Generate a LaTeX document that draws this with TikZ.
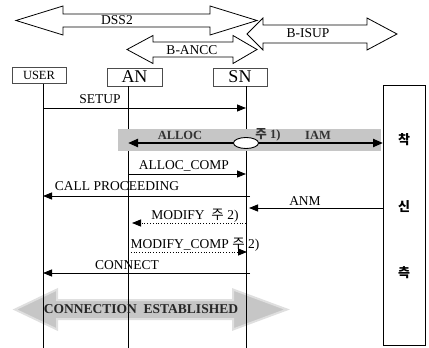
\documentclass[tikz,border=0pt]{standalone}
\usepackage{fontspec}
\setmainfont{Liberation Serif}
\newfontfamily\kr{Noto Sans CJK KR}
\usetikzlibrary{arrows.meta,shapes.geometric}
\tikzset{
  x=1pt,y=-1pt,
  lbl/.style={font=\fontsize{13.5}{14}\selectfont,inner sep=0pt},
  blbl/.style={inner sep=0pt,font=\bfseries\fontsize{12.5}{14}\selectfont,text=black!80},
  ent/.style={draw=black!70,line width=0.7pt,minimum height=16pt,inner sep=0pt},
  life/.style={line width=0.8pt},
  msg/.style={line width=0.8pt,-{Triangle[length=9pt,width=7pt]}},
  dmsg/.style={msg,dotted},
  band/.style={draw=black,line width=0.8pt,fill=white},
}
\newcommand\dblarrowpath[7]{% x1 xb1 xb2 x2 yc halfshaft halfhead
  (#1,#5) -- (#2,#5-#7) -- (#2,#5-#6) -- (#3,#5-#6) -- (#3,#5-#7) -- (#4,#5)
  -- (#3,#5+#7) -- (#3,#5+#6) -- (#2,#5+#6) -- (#2,#5+#7) -- cycle}
\begin{document}
\begin{tikzpicture}
\useasboundingbox (0,0) rectangle (429,348);
% protocol arrows
\draw[band] \dblarrowpath{16}{63}{210}{257}{20.5}{6.5}{14.5};
\node[lbl,font=\fontsize{13.5}{14}\selectfont] (dss) at (117,20) {DSS2};
\draw[band] \dblarrowpath{247}{263}{367}{397}{34}{9}{16};
\node[lbl,font=\fontsize{13.5}{14}\selectfont] (isup) at (308,33) {B-ISUP};
\draw[band] \dblarrowpath{127}{153}{233}{257}{49.5}{7.5}{14};
\node[lbl,font=\fontsize{13.5}{14}\selectfont] (ancc) at (192,50) {B-ANCC};
% entities
\node[ent,minimum width=54pt,font=\fontsize{12.5}{14}\selectfont] (user) at (39,75.5) {USER};
\node[ent,minimum width=55pt,minimum height=18pt,font=\fontsize{18}{18}\selectfont] (an) at (134.5,77) {AN};
\node[ent,minimum width=54pt,minimum height=18pt,font=\fontsize{18}{18}\selectfont] (sn) at (240,77) {SN};
\node[draw=black,line width=0.8pt,minimum width=42pt,minimum height=260pt,inner sep=0pt] (rb) at (404,215) {};
\node[font=\kr\bfseries\fontsize{13}{14}\selectfont,inner sep=0pt] (k1) at (404,140) {착};
\node[font=\kr\bfseries\fontsize{13}{14}\selectfont,inner sep=0pt] (k2) at (404,207) {신};
\node[font=\kr\bfseries\fontsize{13}{14}\selectfont,inner sep=0pt] (k3) at (404,273) {측};
% lifelines
\coordinate (ub) at (43,348);
\coordinate (ab) at (128,348);
\coordinate (sb) at (246,348);
\coordinate (ut) at (43,83.5);
\coordinate (at) at (128,86);
\coordinate (st) at (246,86);
% connection established (background)
\fill[gray!45,draw=gray!25,line width=2pt] \dblarrowpath{15}{57}{233}{287}{309.5}{9.5}{20};
\draw[life] (ut) -- (ub);
\draw[life] (at) -- (ab);
\draw[life] (st) -- (sb);
\node[blbl,font=\bfseries\fontsize{13.5}{14}\selectfont,text=black!85] (ce) at (141,309) {CONNECTION\ \ ESTABLISHED};
% SETUP
\coordinate (m1a) at (43,108); \coordinate (m1b) at (246,108);
\draw[msg] (m1a) -- (m1b);
\node[lbl] (l1) at (100,99) {SETUP};
% ALLOC / IAM
\fill[gray!45] (118,129) rectangle (381,151);
\coordinate (m2a) at (128,143); \coordinate (m2b) at (383,143);
\draw[line width=2.2pt,{Triangle[length=10pt,width=8pt]}-{Triangle[length=10pt,width=8pt]}] (m2a) -- (m2b);
\node[draw=black,line width=0.9pt,fill=white,ellipse,minimum width=25pt,minimum height=11pt,inner sep=0pt] (ell) at (246,143) {};
\node[blbl] (l2a) at (180,135) {ALLOC};
\node[blbl] (l2b) at (268,135) {{\kr 주} 1)};
\node[blbl] (l2c) at (318,135) {IAM};
% ALLOC_COMP
\coordinate (m3a) at (128,174); \coordinate (m3b) at (246,174);
\draw[msg] (m3a) -- (m3b);
\node[lbl] (l3) at (184,166) {ALLOC\_COMP};
% CALL PROCEEDING
\coordinate (m4a) at (250,196); \coordinate (m4b) at (43,196);
\draw[msg] (m4a) -- (m4b);
\node[lbl] (l4) at (117,186) {CALL PROCEEDING};
% ANM
\coordinate (m5a) at (383,208); \coordinate (m5b) at (249,208);
\draw[msg] (m5a) -- (m5b);
\node[lbl] (l5) at (305,201) {ANM};
% MODIFY
\coordinate (m6a) at (246,223); \coordinate (m6b) at (132,223);
\draw[dmsg] (m6a) -- (m6b);
\node[lbl] (l6) at (195,216) {MODIFY\ \ {\kr 주} 2)};
% MODIFY_COMP
\coordinate (m7a) at (128,252); \coordinate (m7b) at (247,252);
\draw[dmsg] (m7a) -- (m7b);
\node[lbl] (l7) at (195,245) {MODIFY\_COMP {\kr 주} 2)};
% CONNECT
\coordinate (m8a) at (250,273); \coordinate (m8b) at (43,273);
\draw[msg] (m8a) -- (m8b);
\node[lbl] (l8) at (127,265) {CONNECT};
\end{tikzpicture}
\end{document}
